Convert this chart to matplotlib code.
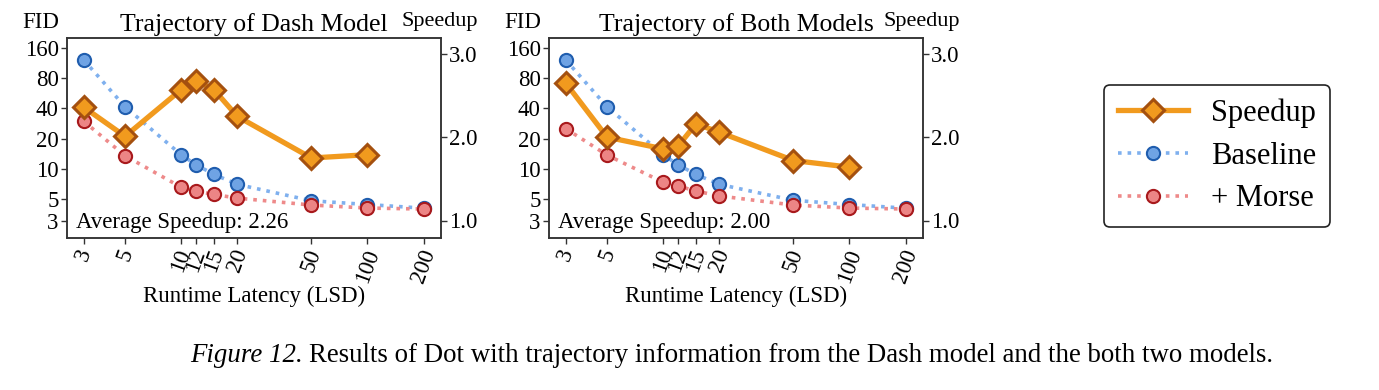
import matplotlib
matplotlib.use("Agg")
import matplotlib.pyplot as plt
from matplotlib.ticker import FixedLocator, NullLocator, FixedFormatter

plt.rcParams["font.family"] = ["Liberation Serif", "DejaVu Serif"]

# data
steps = [3, 5, 10, 12, 15, 20, 50, 100, 200]
speed_steps = [3, 5, 10, 12, 15, 20, 50, 100]

dash_baseline = [122, 41.6, 13.8, 11.0, 8.8, 7.0, 4.8, 4.4, 4.05]
dash_morse = [29.8, 13.5, 6.55, 6.0, 5.55, 5.1, 4.35, 4.06, 3.97]
dash_speedup = [2.36, 2.01, 2.57, 2.68, 2.57, 2.25, 1.75, 1.79]

both_baseline = [122, 41.6, 13.8, 11.0, 8.8, 7.0, 4.85, 4.4, 4.05]
both_morse = [25.2, 13.7, 7.35, 6.75, 6.0, 5.36, 4.35, 4.06, 3.97]
both_speedup = [2.65, 2.00, 1.86, 1.89, 2.16, 2.06, 1.72, 1.64]

titles = ["Trajectory of Dash Model", "Trajectory of Both Models"]
avg_labels = ["Average Speedup: 2.26", "Average Speedup: 2.00"]
fid_ticks = [3, 5, 10, 20, 40, 80, 160]
speed_ticks = [1.0, 2.0, 3.0]

ORANGE = "#F19A1E"
ORANGE_EDGE = "#A4500F"
BLUE = "#6FA3E4"
BLUE_EDGE = "#1F5DAE"
BLUE_LINE = "#7FB0EE"
RED = "#EC8585"
RED_EDGE = "#A8191C"
RED_LINE = "#EE8A8A"
SPINE = "#333333"

FS = 16.5

W, H = 1379, 390
fig = plt.figure(figsize=(W / 100, H / 100), dpi=100)

panels = [
    (67, titles[0], avg_labels[0], dash_baseline, dash_morse, dash_speedup),
    (549, titles[1], avg_labels[1], both_baseline, both_morse, both_speedup),
]

handles = None
for left, title, avg, base, morse, speed in panels:
    ax = fig.add_axes([left / W, (H - 238) / H, 374 / W, 200 / H])
    ax.set_xscale("log")
    ax.set_yscale("log")
    hb, = ax.plot(steps, base, linestyle=":", color=BLUE_LINE, lw=2.6,
                  marker="o", ms=9.5, mfc=BLUE, mec=BLUE_EDGE, mew=1.5,
                  label="Baseline")
    hm, = ax.plot(steps, morse, linestyle=":", color=RED_LINE, lw=2.6,
                  marker="o", ms=9.5, mfc=RED, mec=RED_EDGE, mew=1.5,
                  label="+ Morse")
    ax.set_xlim(2.44, 248)
    ax.set_ylim(2.04, 202)
    ax.xaxis.set_major_locator(FixedLocator(steps))
    ax.xaxis.set_major_formatter(FixedFormatter([str(s) for s in steps]))
    ax.xaxis.set_minor_locator(NullLocator())
    ax.yaxis.set_major_locator(FixedLocator(fid_ticks))
    ax.yaxis.set_major_formatter(FixedFormatter([str(t) for t in fid_ticks]))
    ax.yaxis.set_minor_locator(NullLocator())
    ax.tick_params(axis="both", labelsize=FS, length=4, width=1, color=SPINE, pad=2)
    for lab in ax.get_xticklabels():
        lab.set_rotation(70)
        lab.set_ha("center")
        lab.set_va("top")
    ax.set_xlabel("Runtime Latency (LSD)", fontsize=FS, labelpad=0)
    ax.set_title(title, fontsize=18.5, pad=5)
    ax.text(-0.12, 1.08, "FID", transform=ax.transAxes, fontsize=FS,
            ha="left", va="center")
    ax.text(0.025, 0.025, avg, transform=ax.transAxes, fontsize=FS,
            ha="left", va="bottom")

    ax2 = ax.twinx()
    hs, = ax2.plot(speed_steps, speed, color=ORANGE, lw=3.8, marker="D", ms=11,
                   mfc=ORANGE, mec=ORANGE_EDGE, mew=2.2, label="Speedup")
    ax2.set_ylim(0.79, 3.19)
    ax2.yaxis.set_major_locator(FixedLocator(speed_ticks))
    ax2.yaxis.set_major_formatter(FixedFormatter(["1.0", "2.0", "3.0"]))
    ax2.tick_params(axis="y", labelsize=FS, length=4, width=1, color=SPINE, pad=2)
    ax2.text(1.10, 1.085, "Speedup", transform=ax2.transAxes, fontsize=16,
             ha="right", va="center")
    for a in (ax, ax2):
        for sp in a.spines.values():
            sp.set_color(SPINE)
            sp.set_linewidth(1.1)
    handles = [hs, hb, hm]

leg = fig.legend(handles, [h.get_label() for h in handles],
                 loc="center", bbox_to_anchor=(1217 / W, 1 - 156 / H),
                 fontsize=22, frameon=True, fancybox=True, edgecolor="#222222",
                 framealpha=1, handlelength=2.3, borderpad=0.45,
                 labelspacing=0.45, handletextpad=0.75, borderaxespad=0)
leg.get_frame().set_linewidth(1.2)

cap1 = fig.text(190 / W, 1 - 355 / H, "Figure 12.", fontsize=19.4,
                style="italic", ha="left", va="center")
fig.canvas.draw()
bb = cap1.get_window_extent()
fig.text((bb.x1 + 6) / W, 1 - 355 / H,
         "Results of Dot with trajectory information from the Dash model and the both two models.",
         fontsize=19.4, ha="left", va="center")

fig.savefig("out.png", dpi=100)
